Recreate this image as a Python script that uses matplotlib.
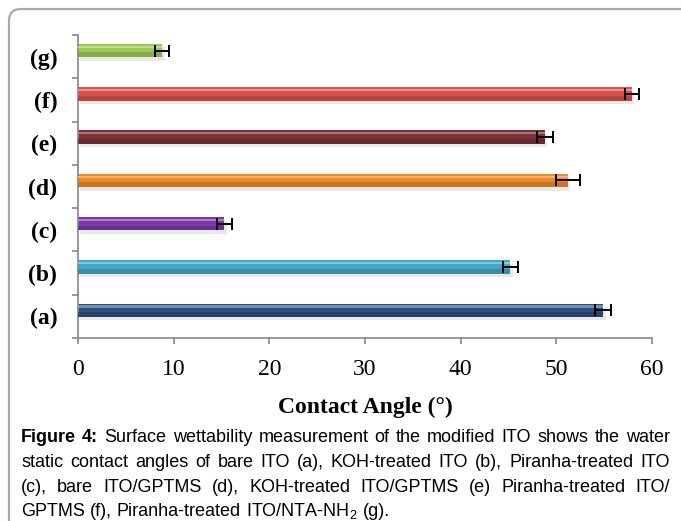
import matplotlib
matplotlib.use("Agg")
import matplotlib.pyplot as plt
from matplotlib.patches import FancyBboxPatch
from matplotlib import font_manager
import matplotlib.colors as mcolors
import numpy as np

# ---- data ----
labels = ["(a)", "(b)", "(c)", "(d)", "(e)", "(f)", "(g)"]
angles = [54.9, 45.2, 15.3, 51.2, 48.8, 57.9, 8.8]
errors = [0.85, 0.75, 0.75, 1.25, 0.8, 0.7, 0.7]
bar_colors = ["#2B4F7E", "#43A6C6", "#7B38A6", "#F08A24", "#7A3036", "#D9504E", "#9CCB55"]
x_ticks = [0, 10, 20, 30, 40, 50, 60]
x_label = "Contact Angle (°)"
caption_lines = [
    [("Figure", True), ("4:", True), ("Surface", False), ("wettability", False),
     ("measurement", False), ("of", False), ("the", False), ("modified", False),
     ("ITO", False), ("shows", False), ("the", False), ("water", False)],
    "static contact angles of bare ITO (a), KOH-treated ITO (b), Piranha-treated ITO",
    "(c), bare ITO/GPTMS (d), KOH-treated ITO/GPTMS (e) Piranha-treated ITO/",
    "GPTMS (f), Piranha-treated ITO/NTA-NH$_2$ (g).",
]

names = {f.name for f in font_manager.fontManager.ttflist}
cap_font = "Liberation Sans Narrow" if "Liberation Sans Narrow" in names else "Liberation Sans"
serif = "Liberation Serif"
plt.rcParams["mathtext.fontset"] = "custom"
plt.rcParams["mathtext.rm"] = cap_font

W, H = 681, 521
fig = plt.figure(figsize=(W / 100, H / 100), dpi=100)

# outer frame (rounded top-left corner, runs off the right/bottom edges)
frame = FancyBboxPatch((9, -40), 760, H - 9 + 40, boxstyle="round,pad=0,rounding_size=12",
                       transform=None, facecolor="none", edgecolor="#A8A8A8", linewidth=1.6)
fig.patches.append(frame)

ax = fig.add_axes([78 / W, 1 - 338 / H, (652 - 78) / W, (338 - 35) / H])

y = np.arange(len(labels))
yb = y + 0.14
h = 0.31

# soft shadow
ax.barh(yb - 0.08, angles, height=h, left=0.25, color="#000000", alpha=0.09, zorder=1)
ax.barh(yb, angles, height=h, color=bar_colors, edgecolor="none", zorder=2)
light = [mcolors.to_hex(0.55 * np.array(mcolors.to_rgb(c)) + 0.45) for c in bar_colors]
dark = [mcolors.to_hex(0.75 * np.array(mcolors.to_rgb(c))) for c in bar_colors]
ax.barh(yb + h * 0.28, angles, height=h * 0.16, color=light, alpha=0.8, zorder=3)
ax.barh(yb - h * 0.32, angles, height=h * 0.36, color=dark, alpha=0.6, zorder=3)
ax.errorbar(angles, yb, xerr=errors, fmt="none", ecolor="black", elinewidth=1.4,
            capsize=4, capthick=1.4, zorder=4)

ax.set_xlim(0, 60)
ax.set_ylim(-0.5, len(labels) - 0.5)
ax.set_xticks(x_ticks)
ax.set_xticklabels([str(t) for t in x_ticks], fontfamily=serif, fontsize=17)
ax.set_yticks(y)
ax.set_yticklabels(labels, fontfamily=serif, fontsize=17, fontweight="bold")
ax.set_yticks(np.arange(len(labels) + 1) - 0.5, minor=True)
ax.tick_params(axis="y", which="major", length=0, pad=15)
ax.tick_params(axis="y", which="minor", length=4, color="#868686", width=1.2)
ax.tick_params(axis="x", length=4, color="#868686", width=1.2, pad=11)
for s in ["top", "right"]:
    ax.spines[s].set_visible(False)
for s in ["left", "bottom"]:
    ax.spines[s].set_color("#868686")
    ax.spines[s].set_linewidth(1.2)
ax.set_xlabel(x_label, fontfamily=serif, fontsize=17, fontweight="bold", labelpad=12)

# justified caption
renderer = fig.canvas.get_renderer()
x0, x1 = 21, 670
baselines = [442, 467, 492, 516]
fs = 13
for i, line in enumerate(caption_lines):
    words = line if isinstance(line, list) else [(w, False) for w in line.split(" ")]
    texts = []
    for w, bold in words:
        t = fig.text(0, 0, w, transform=None, fontsize=fs, fontfamily=cap_font,
                     fontweight="bold" if bold else "normal", va="baseline", ha="left")
        texts.append(t)
    widths = [t.get_window_extent(renderer).width for t in texts]
    if i < len(caption_lines) - 1:
        gap = (x1 - x0 - sum(widths)) / (len(texts) - 1)
    else:
        sp = fig.text(0, 0, "a b", fontsize=fs, fontfamily=cap_font)
        spw = sp.get_window_extent(renderer).width
        sp2 = fig.text(0, 0, "ab", fontsize=fs, fontfamily=cap_font)
        gap = spw - sp2.get_window_extent(renderer).width
        sp.remove()
        sp2.remove()
    xpos = x0
    for t, wdt in zip(texts, widths):
        t.set_position((xpos, H - baselines[i]))
        xpos += wdt + gap

fig.savefig("out.png", dpi=100)
